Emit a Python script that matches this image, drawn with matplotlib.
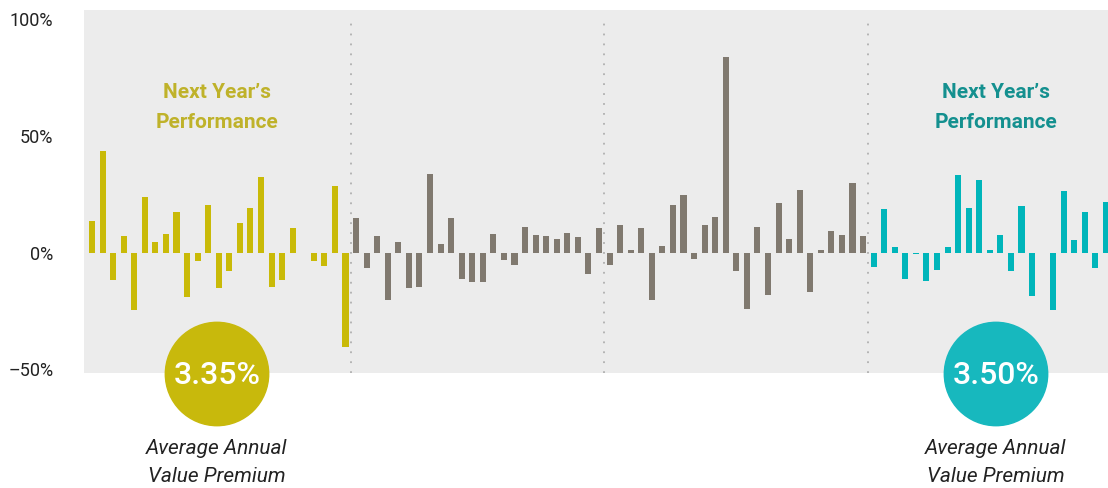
import matplotlib
matplotlib.use("Agg")
import matplotlib.pyplot as plt
from matplotlib.patches import Circle
import numpy as np

# ---- data (annual value premium, %) ----
before_vals = [13.7, 43.6, -11.7, 7.1, -24.6, 23.9, 4.6, 8.0, 17.4, -18.9, -3.6, 20.4, -15.1,
               -7.9, 12.7, 19.1, 32.4, -14.7, -11.7, 10.6, 0.0, -3.6, -5.7, 28.6, -40.4]
middle_a_vals = [14.9, -6.6, 7.1, -20.3, 4.6, -15.1, -14.7, 33.7, 3.7, 14.9, -11.3, -12.6,
                 -12.6, 8.0, -3.1, -5.3, 11.0, 7.6, 7.1, 5.9, 8.4, 6.7, -9.1, 10.6]
middle_b_vals = [-5.3, 11.9, 1.1, 10.6, -20.3, 2.9, 20.4, 24.7, -2.7, 11.9, 15.3, 83.9, -7.9,
                 -24.1, 11.0, -18.1, 21.3, 5.9, 26.9, -16.9, 1.1, 9.3, 7.6, 29.9, 7.1]
after_vals = [-6.1, 18.7, 2.4, -11.3, -0.6, -12.1, -7.4, 2.4, 33.3, 19.1, 31.1, 1.1, 7.6,
              -7.9, 20.0, -18.6, -0.3, -24.6, 26.4, 5.4, 17.4, -6.6, 21.7]
premiums = ["3.35%", "3.50%"]
y_ticks = [100, 50, 0, -50]
y_tick_labels = ["100%", "50%", "0%", "\u201350%"]

YELLOW = "#C9BA08"
GRAY = "#80796F"
TEAL = "#00B5BA"
BG = "#ECECEC"

FONT = ["Roboto", "DejaVu Sans"]
plt.rcParams["font.family"] = FONT

fig = plt.figure(figsize=(11.08, 4.88), dpi=100)
W, H = 1108, 488
ax = fig.add_axes([84 / W, (H - 373.3) / H, (W - 84) / W, (373.3 - 10) / H])
ax.set_facecolor(BG)

groups = [(before_vals, YELLOW), (middle_a_vals, GRAY), (middle_b_vals, GRAY), (after_vals, TEAL)]
start = 0
bounds = []
for vals, col in groups:
    x = np.arange(start, start + len(vals))
    ax.bar(x, vals, width=0.57, color=col, zorder=3)
    start += len(vals)
    bounds.append(start - 0.5)

for b in bounds[:-1]:
    ax.axvline(b, ymin=0, ymax=0.98, color="#B0B0B0", lw=1.3, linestyle=(0, (1, 4.5)), zorder=2)

ax.set_xlim(-0.757, start - 1 + 0.19)
ax.set_ylim(-51.7, 104.0)
ax.set_xticks([])
ax.set_yticks(y_ticks)
ax.set_yticklabels(y_tick_labels, fontsize=13, color="#222222")
ax.tick_params(axis="y", length=0, pad=22)
for s in ax.spines.values():
    s.set_visible(False)

# overlay in pixel coordinates for annotations
ov = fig.add_axes([0, 0, 1, 1])
ov.set_xlim(0, W)
ov.set_ylim(H, 0)
ov.axis("off")
ov.patch.set_alpha(0)

title_cols = ["#BFB22A", "#14908F"]
circle_cols = ["#C8B90C", "#17B8BE"]
centers = [217, 996]
for cx, tc, cc, pv in zip(centers, title_cols, circle_cols, premiums):
    ov.text(cx, 93, "Next Year\u2019s", ha="center", va="center", fontsize=15,
            fontweight="bold", color=tc)
    ov.text(cx, 123, "Performance", ha="center", va="center", fontsize=15,
            fontweight="bold", color=tc)
    ov.add_patch(Circle((cx, 374), 51.7, color=cc, zorder=5))
    ov.text(cx, 376, pv, ha="center", va="center", fontsize=23, fontweight="medium",
            color="white", zorder=6)
    ov.text(cx, 448, "Average Annual", ha="center", va="center", fontsize=15,
            style="italic", color="#222222")
    ov.text(cx, 477, "Value Premium", ha="center", va="center", fontsize=15,
            style="italic", color="#222222")

fig.savefig("out.png", dpi=100)
